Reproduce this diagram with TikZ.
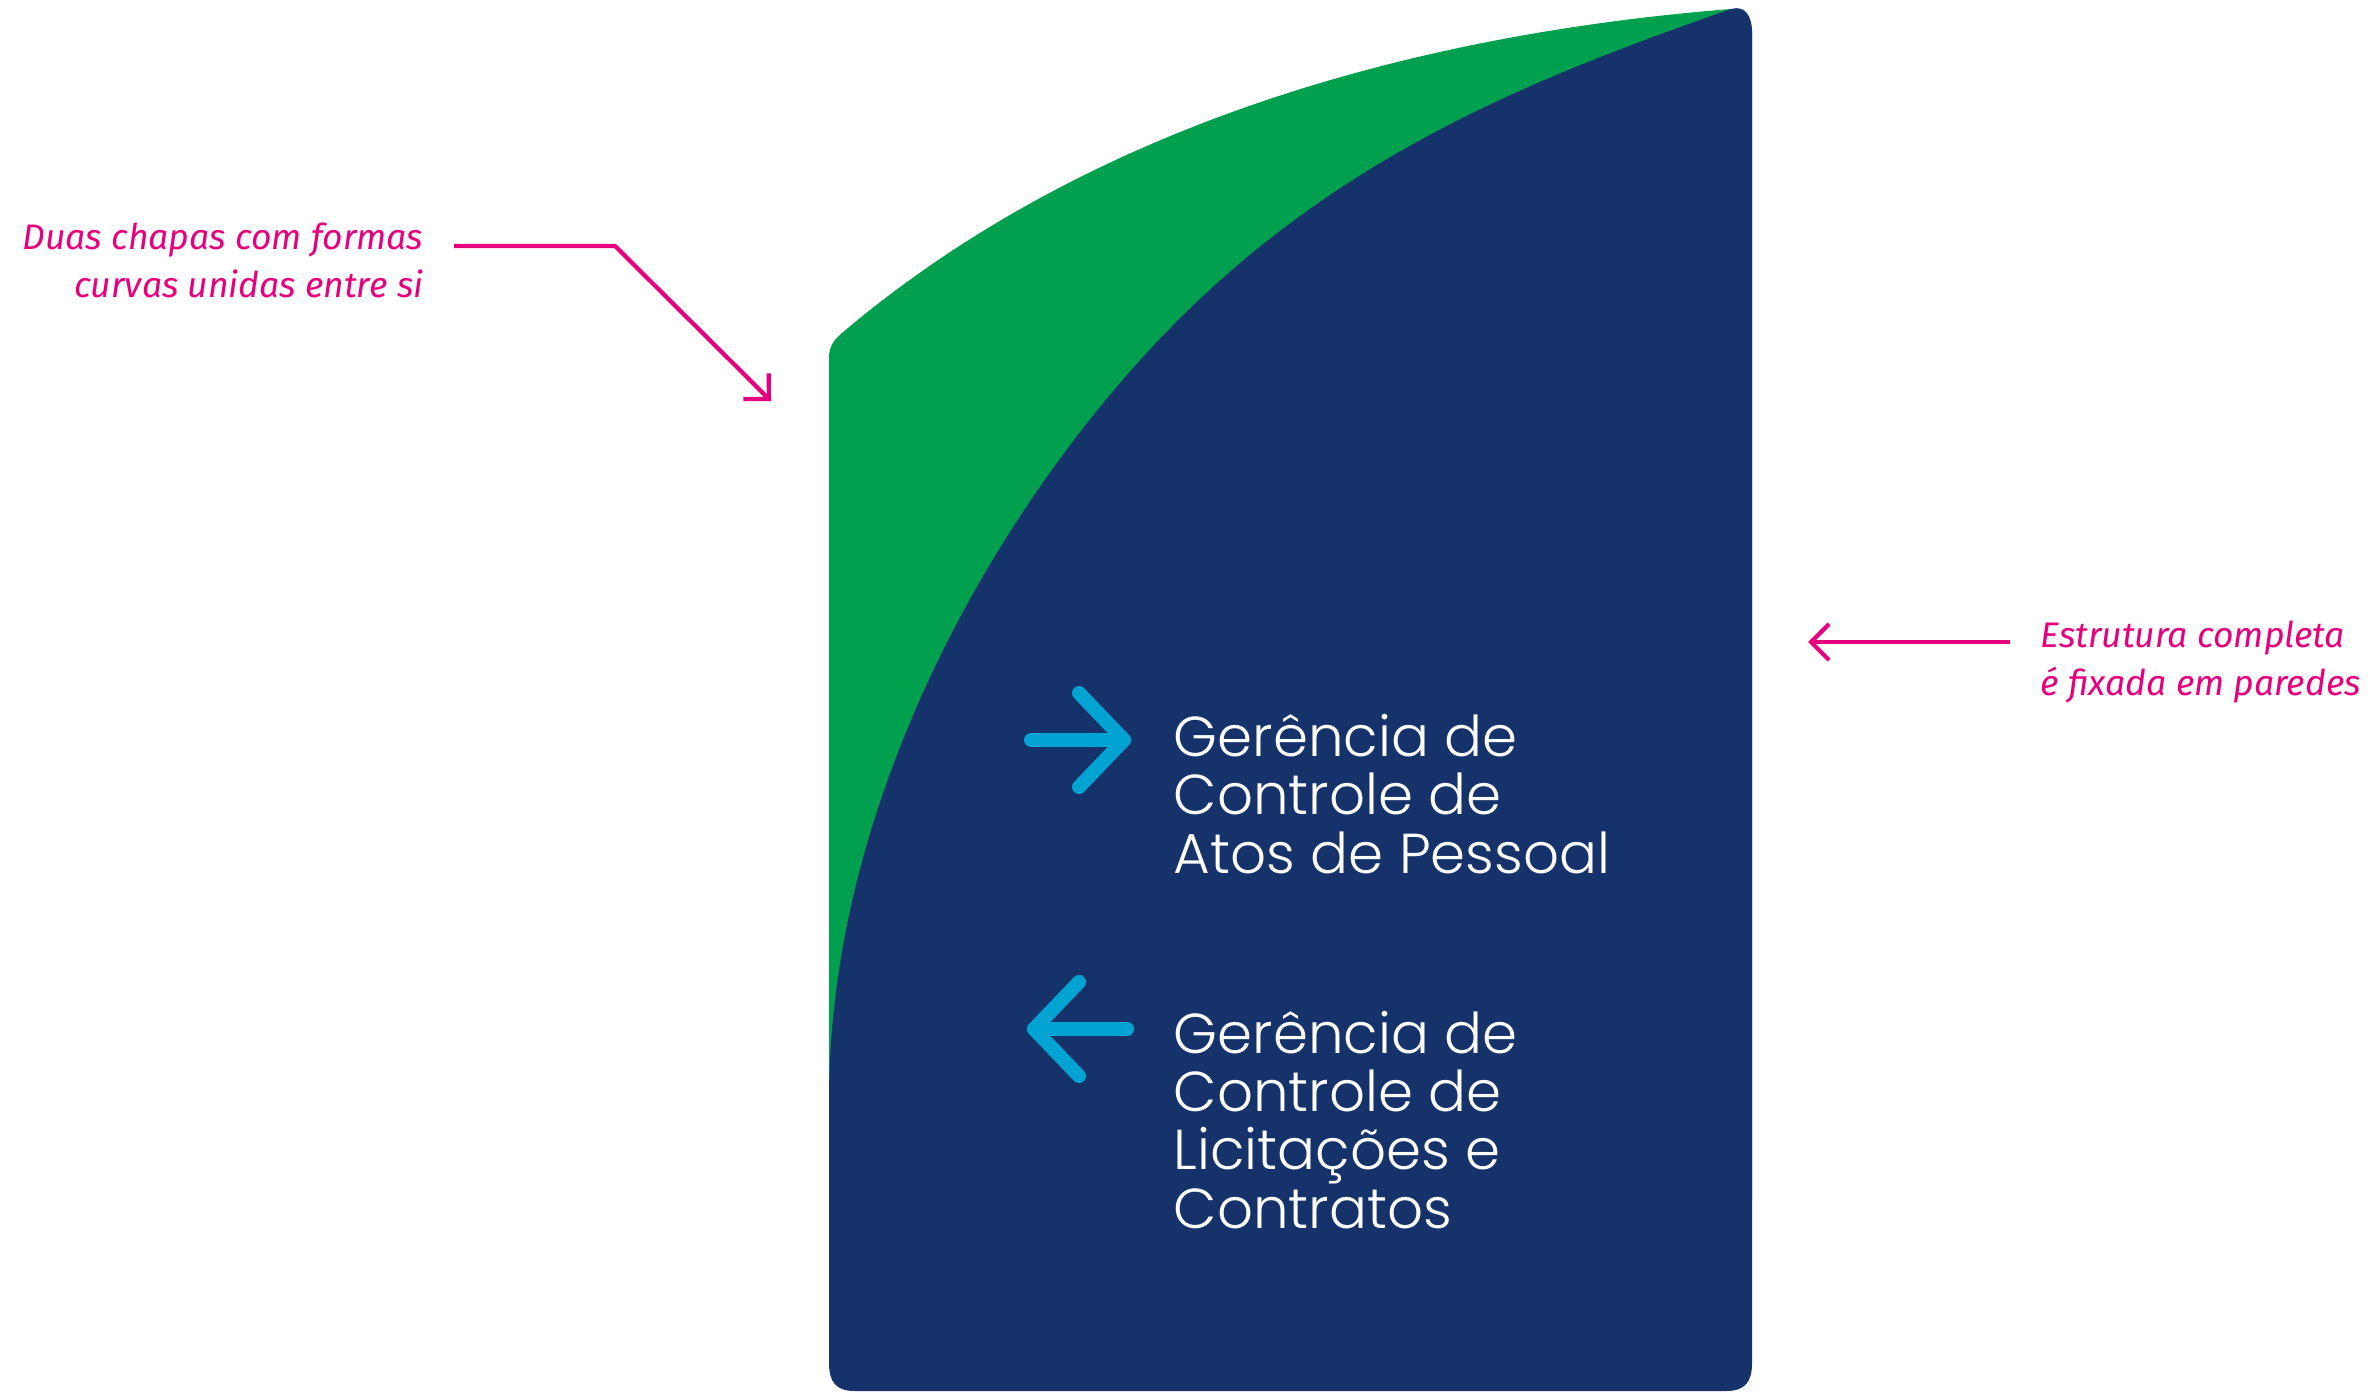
\documentclass[tikz,border=0pt]{standalone}
\usepackage{fontspec}
\setmainfont{Poppins Light}
\newfontfamily\notefont{Fira Sans}
\usetikzlibrary{arrows.meta}
\definecolor{signgreen}{HTML}{00A04F}
\definecolor{signnavy}{HTML}{15336A}
\definecolor{notepink}{HTML}{E6007E}
\definecolor{arrowcyan}{HTML}{00A3D2}
\tikzset{
  signtext/.style={text=white, align=left, inner sep=0pt, anchor=base west,
    font=\fontsize{16pt}{16.5pt}\selectfont},
  notetext/.style={text=notepink, inner sep=0pt,
    font=\notefont\itshape\fontsize{10.1pt}{13.4pt}\selectfont},
  noteline/.style={draw=notepink, line width=1.2pt},
  notehead/.style={-{Straight Barb[length=0.18cm,width=0.36cm]}},
  wayarrow/.style={draw=arrowcyan, line width=0.14cm, line cap=round, line join=round},
}
\begin{document}
\begin{tikzpicture}[x=0.01cm,y=-0.01cm]
\useasboundingbox[fill=white] (0,0) rectangle (2373,1391);

% green plate
\fill[signgreen] (829,1200) -- (829,358)
  .. controls (829,346) and (834,340) .. (842,333)
  .. controls (1040,165) and (1331,41) .. (1731,9)
  -- (1752,30) -- (1752,1200) -- cycle;

% navy plate
\fill[signnavy] (829,1100)
  .. controls (829,800) and (994,516) .. (1154,345)
  .. controls (1329,158) and (1531,79) .. (1731,9)
  .. controls (1745,5) and (1752,16) .. (1752,32)
  -- (1752,1363) .. controls (1752,1382) and (1745,1391) .. (1726,1391)
  -- (855,1391) .. controls (836,1391) and (829,1382) .. (829,1363)
  -- cycle;

% direction arrows
\draw[wayarrow] (1031,740) -- (1124,740);
\draw[wayarrow] (1079,693) -- (1124,740) -- (1079,787);
\draw[wayarrow] (1127,1029) -- (1034,1029);
\draw[wayarrow] (1079,982) -- (1034,1029) -- (1079,1076);

% sign texts (anchored at the baseline of their last line)
\node[signtext] (gap) at (1173,873) {Gerência de\\Controle de\\Atos de Pessoal};
\node[signtext] (glc) at (1173,1228) {Gerência de\\Controle de\\Licitações e\\Contratos};

% notes
\node[notetext, align=right, anchor=base east] (note1) at (424,297) {Duas chapas com formas\\curvas unidas entre si};
\node[notetext, align=left, anchor=base west] (note2) at (2040,695) {Estrutura completa\\é fixada em paredes};

\coordinate (n1a) at (454,246);
\coordinate (n1b) at (615,246);
\coordinate (n1c) at (771,401);
\draw[noteline, notehead] (n1a) -- (n1b) -- (n1c);

\coordinate (n2a) at (2010,642);
\coordinate (n2b) at (1808,642);
\draw[noteline, notehead] (n2a) -- (n2b);
\end{tikzpicture}
\end{document}
